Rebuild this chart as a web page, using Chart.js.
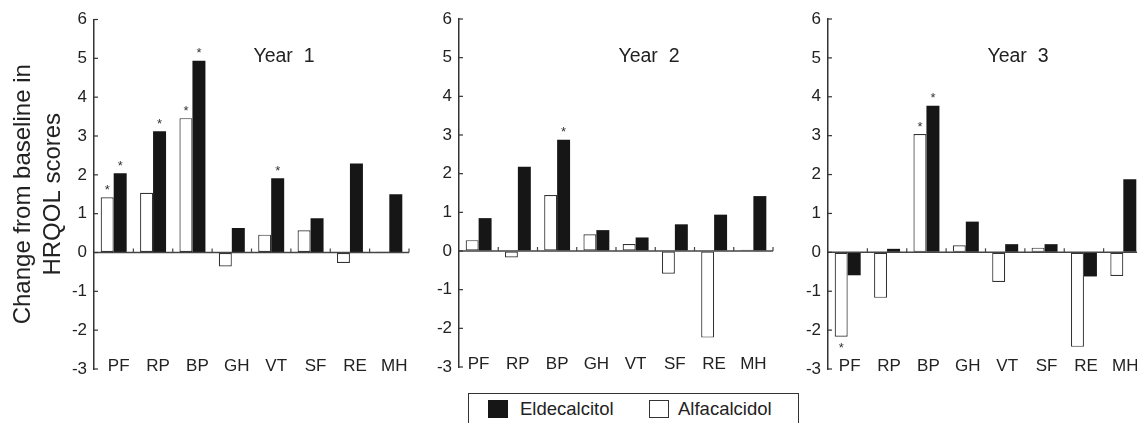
<!DOCTYPE html>
<html>
<head>
<meta charset="utf-8">
<script src="https://cdn.jsdelivr.net/npm/chart.js@4.4.1/dist/chart.umd.min.js"></script>
<style>
html,body{margin:0;padding:0;background:#fff;overflow:hidden;}
#wrap{position:relative;width:1137px;height:423px;overflow:hidden;font-family:"Liberation Sans",Arial,Helvetica,sans-serif;color:#222;}
#wrap canvas{position:absolute;top:0;}
#legend{position:absolute;left:468px;top:393px;width:331px;height:40px;border:1px solid #333;box-sizing:border-box;background:#fff;}
#legend .sw{position:absolute;top:6px;width:20px;height:18px;box-sizing:border-box;}
#legend .tx{position:absolute;top:6px;font-size:18.5px;line-height:18.5px;white-space:nowrap;}
</style>
</head>
<body>
<div id="wrap">
  <canvas id="c0"></canvas>
  <canvas id="c1"></canvas>
  <canvas id="c2"></canvas>
  <div id="legend"></div>
</div>
<script>
// ---------------- data ----------------
const categories = ['PF', 'RP', 'BP', 'GH', 'VT', 'SF', 'RE', 'MH'];
const seriesNames = ['Alfacalcidol', 'Eldecalcitol'];
const panelTitles = ['Year  1', 'Year  2', 'Year  3'];
const yTicks = [-3, -2, -1, 0, 1, 2, 3, 4, 5, 6];
const yTitle = ['Change from baseline in', 'HRQOL scores'];

const alfacalcidolY1 = [1.42, 1.54, 3.46, -0.36, 0.46, 0.57, -0.27, 0.02];
const eldecalcitolY1 = [2.04, 3.12, 4.94, 0.63, 1.91, 0.88, 2.29, 1.50];
const alfacalcidolY2 = [0.28, -0.17, 1.45, 0.43, 0.18, -0.59, -2.24, 0.03];
const eldecalcitolY2 = [0.85, 2.18, 2.88, 0.54, 0.35, 0.69, 0.94, 1.42];
const alfacalcidolY3 = [-2.17, -1.17, 3.04, 0.18, -0.76, 0.12, -2.43, -0.61];
const eldecalcitolY3 = [-0.59, 0.09, 3.77, 0.79, 0.21, 0.21, -0.62, 1.88];

// significance markers (*)
const sigAlfacalcidolY1 = [1, 0, 1, 0, 0, 0, 0, 0];
const sigEldecalcitolY1 = [1, 1, 1, 0, 1, 0, 0, 0];
const sigAlfacalcidolY2 = [0, 0, 0, 0, 0, 0, 0, 0];
const sigEldecalcitolY2 = [0, 0, 1, 0, 0, 0, 0, 0];
const sigAlfacalcidolY3 = [1, 0, 1, 0, 0, 0, 0, 0];
const sigEldecalcitolY3 = [0, 0, 1, 0, 0, 0, 0, 0];

// ---------------- style / layout ----------------
const FONT = '"Liberation Sans", Arial, Helvetica, sans-serif';
const INK = '#222';
const BLACK_BAR = '#161616';
const seriesStyle = [
  {backgroundColor: '#ffffff', borderColor: '#333', borderWidth: 1.2},
  {backgroundColor: BLACK_BAR, borderColor: BLACK_BAR, borderWidth: 0}
];

const panels = [
  {title: panelTitles[0], series: [alfacalcidolY1, eldecalcitolY1], sig: [sigAlfacalcidolY1, sigEldecalcitolY1]},
  {title: panelTitles[1], series: [alfacalcidolY2, eldecalcitolY2], sig: [sigAlfacalcidolY2, sigEldecalcitolY2]},
  {title: panelTitles[2], series: [alfacalcidolY3, eldecalcitolY3], sig: [sigAlfacalcidolY3, sigEldecalcitolY3]}
];
const layouts = [
  {axisX: 94,  yw: 94, top: 19.5, bottom: 369, plotW: 315, labelOffset: 5, showTitle: true},
  {axisX: 459, yw: 44, top: 19,   bottom: 367, plotW: 314, labelOffset: 0, showTitle: false},
  {axisX: 828, yw: 44, top: 19,   bottom: 369, plotW: 315, labelOffset: 2, showTitle: false}
];
const CANVAS_H = 423;
const RIGHT_PAD = 4;

const decor = {
  id: 'decor',
  afterDatasetsDraw(chart, args, opts) {
    const {ctx, chartArea: a, scales: {x, y}} = chart;
    ctx.save();
    // zero line
    const y0 = y.getPixelForValue(0);
    ctx.strokeStyle = '#444';
    ctx.lineWidth = 1.5;
    ctx.beginPath();
    ctx.moveTo(a.left, y0);
    ctx.lineTo(a.right, y0);
    ctx.stroke();
    // category boundary ticks on the zero line
    ctx.lineWidth = 1.2;
    const n = categories.length;
    for (let i = 0; i < n; i++) {
      const bx = i < n - 1 ? (x.getPixelForValue(i) + x.getPixelForValue(i + 1)) / 2 : a.right;
      ctx.beginPath();
      ctx.moveTo(bx, y0);
      ctx.lineTo(bx, y0 - 4);
      ctx.stroke();
    }
    // inward y ticks
    ctx.strokeStyle = '#333';
    ctx.lineWidth = 1.2;
    yTicks.forEach(v => {
      const py = y.getPixelForValue(v);
      ctx.beginPath();
      ctx.moveTo(a.left, py);
      ctx.lineTo(a.left + 4, py);
      ctx.stroke();
    });
    // asterisks
    ctx.fillStyle = '#333';
    ctx.font = '13px ' + FONT;
    ctx.textAlign = 'center';
    ctx.textBaseline = 'alphabetic';
    chart.data.datasets.forEach((ds, di) => {
      const meta = chart.getDatasetMeta(di);
      meta.data.forEach((bar, i) => {
        if (!ds.sig[i]) return;
        const v = ds.data[i];
        if (v >= 0) ctx.fillText('*', bar.x, bar.y - 3.5);
        else ctx.fillText('*', bar.x, bar.y + 15.5);
      });
    });
    // panel title
    ctx.fillStyle = INK;
    ctx.font = '19.5px ' + FONT;
    ctx.textBaseline = 'middle';
    ctx.fillText(opts.title, a.left + 190, 57);
    ctx.restore();
  }
};

panels.forEach((p, k) => {
  const L = layouts[k];
  const cv = document.getElementById('c' + k);
  const w = L.yw + L.plotW + RIGHT_PAD;
  cv.width = w;
  cv.height = CANVAS_H;
  cv.style.left = (L.axisX - L.yw) + 'px';
  cv.style.width = w + 'px';
  cv.style.height = CANVAS_H + 'px';

  new Chart(cv, {
    type: 'bar',
    data: {
      labels: categories,
      datasets: p.series.map((vals, si) => Object.assign({
        label: seriesNames[si],
        data: vals,
        sig: p.sig[si],
        borderSkipped: false,
        categoryPercentage: 0.66,
        barPercentage: 1.0
      }, seriesStyle[si]))
    },
    options: {
      responsive: false,
      animation: false,
      devicePixelRatio: 1,
      layout: {padding: {left: 0, right: RIGHT_PAD, top: L.top, bottom: CANVAS_H - L.bottom}},
      plugins: {
        legend: {display: false},
        tooltip: {enabled: false},
        decor: {title: p.title}
      },
      scales: {
        x: {
          type: 'category',
          offset: true,
          grid: {display: false},
          border: {display: false},
          ticks: {
            color: INK,
            font: {family: FONT, size: 17},
            mirror: true,
            padding: -8,
            labelOffset: L.labelOffset,
            maxRotation: 0,
            autoSkip: false
          },
          afterFit: s => { s.height = 0; }
        },
        y: {
          min: yTicks[0],
          max: yTicks[yTicks.length - 1],
          ticks: {
            stepSize: 1,
            color: INK,
            font: {family: FONT, size: 17},
            padding: 7
          },
          grid: {display: true, drawOnChartArea: false, drawTicks: false},
          border: {display: true, color: '#333', width: 1.5},
          title: {
            display: L.showTitle,
            text: yTitle,
            color: INK,
            font: {family: FONT, size: 24, lineHeight: 1.25},
            padding: {top: 8.5, bottom: 0}
          },
          afterFit: s => { s.width = L.yw; }
        }
      }
    },
    plugins: [decor]
  });
});

// legend (HTML) built from series names
const legend = document.getElementById('legend');
const legendOrder = [1, 0];
const legendPos = [{sw: 19, tx: 51}, {sw: 180, tx: 209}];
legendOrder.forEach((si, j) => {
  const sw = document.createElement('div');
  sw.className = 'sw';
  sw.style.left = legendPos[j].sw + 'px';
  sw.style.background = seriesStyle[si].backgroundColor;
  sw.style.border = si === 0 ? '1px solid #333' : 'none';
  legend.appendChild(sw);
  const tx = document.createElement('div');
  tx.className = 'tx';
  tx.style.left = legendPos[j].tx + 'px';
  tx.textContent = seriesNames[si];
  legend.appendChild(tx);
});
</script>
</body>
</html>
